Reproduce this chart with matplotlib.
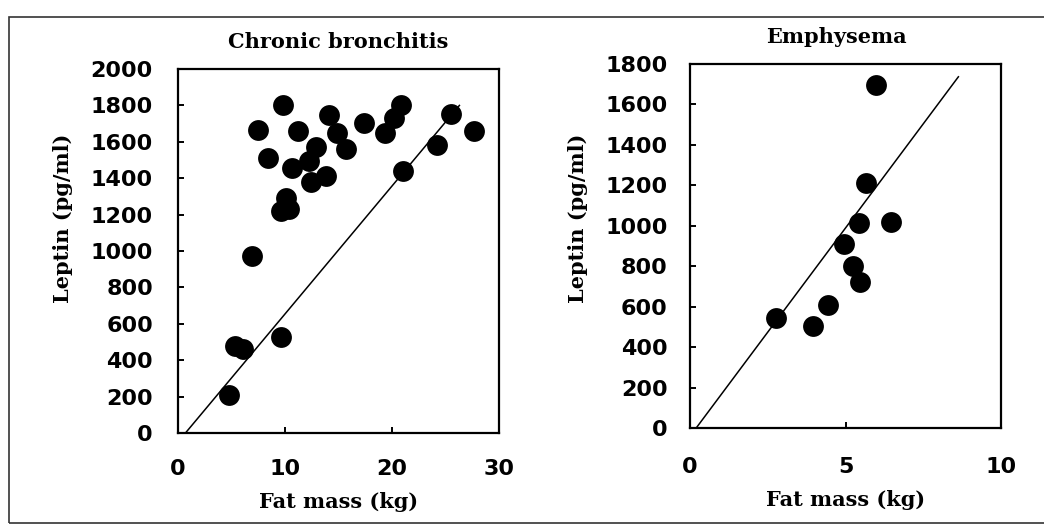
import matplotlib
matplotlib.use("Agg")
import matplotlib.pyplot as plt
from matplotlib.patches import Rectangle

# Chronic bronchitis: fat mass (kg) vs leptin (pg/ml)
cb_fat = [4.8, 5.3, 6.1, 9.6, 6.9, 9.6, 10.1, 10.4, 7.5, 9.8, 8.4, 11.2, 10.7,
          12.9, 12.2, 12.4, 13.8, 14.1, 14.9, 15.7, 17.4, 19.3, 20.2, 20.8,
          21.0, 24.2, 25.5, 27.7]
cb_leptin = [210, 480, 462, 526, 975, 1220, 1293, 1229, 1667, 1800, 1510, 1662,
             1458, 1570, 1494, 1378, 1412, 1750, 1649, 1558, 1706, 1649, 1730,
             1804, 1439, 1583, 1755, 1658]
cb_fit = (70.3, -49.0)       # slope, intercept
cb_fit_x = [0.7, 26.3]

# Emphysema
em_fat = [5.98, 5.65, 5.44, 6.45, 4.95, 5.25, 5.47, 4.45, 2.77, 3.96]
em_leptin = [1694, 1212, 1013, 1018, 910, 802, 723, 607, 545, 504]
em_fit = (206.0, -41.0)
em_fit_x = [0.2, 8.63]

titles = ["Chronic bronchitis", "Emphysema"]
xlabel = "Fat mass (kg)"
ylabel = "Leptin (pg/ml)"

serif = ["DejaVu Serif"]
sans = ["DejaVu Sans"]

fig = plt.figure(figsize=(10.44, 5.25), dpi=100)
fig.patch.set_facecolor("white")

# thin outer frame of the scanned figure
fig.patches.append(Rectangle((9 / 1044, 2 / 525), 1.1, 506 / 525,
                             transform=fig.transFigure, fill=False,
                             edgecolor="#333333", linewidth=1.2, clip_on=False))

ax1 = fig.add_axes([178 / 1044, (525 - 433) / 525, 321 / 1044, 364 / 525])
ax2 = fig.add_axes([690 / 1044, (525 - 428) / 525, 311 / 1044, 364 / 525])

panels = [
    (ax1, cb_fat, cb_leptin, cb_fit, cb_fit_x, (0, 30), [0, 10, 20, 30],
     (0, 2000), range(0, 2001, 200), 19, 18, 0.5, (-0.327, 0.59)),
    (ax2, em_fat, em_leptin, em_fit, em_fit_x, (0, 10), [0, 5, 10],
     (0, 1800), range(0, 1801, 200), 21, 16, 0.47, (-0.328, 0.577)),
]

for i, (ax, xs, ys, fit, fx, xlim, xt, ylim, yt, xpad, ypad, tx, ylc) in enumerate(panels):
    ax.plot(xs, ys, "o", color="black", markersize=15, markeredgewidth=0)
    fy = [fit[0] * v + fit[1] for v in fx]
    ax.plot(fx, fy, color="black", linewidth=1.1)
    ax.set_xlim(*xlim)
    ax.set_ylim(*ylim)
    ax.set_xticks(xt)
    ax.set_yticks(list(yt))
    for s in ax.spines.values():
        s.set_linewidth(1.6)
    ax.tick_params(direction="in", length=4, width=1.4, top=False, right=False)
    ax.tick_params(axis="x", pad=xpad)
    ax.tick_params(axis="y", pad=ypad)
    for lab in ax.get_xticklabels() + ax.get_yticklabels():
        lab.set_family(sans)
        lab.set_fontweight("bold")
        lab.set_fontsize(16)
    ax.set_title(titles[i], family=serif, fontweight="bold", fontsize=15,
                 pad=15, x=tx)
    ax.set_xlabel(xlabel, family=serif, fontweight="bold", fontsize=15, labelpad=9)
    ax.set_ylabel(ylabel, family=serif, fontweight="bold", fontsize=15)
    ax.yaxis.set_label_coords(*ylc)

fig.savefig("out.png", dpi=100)
